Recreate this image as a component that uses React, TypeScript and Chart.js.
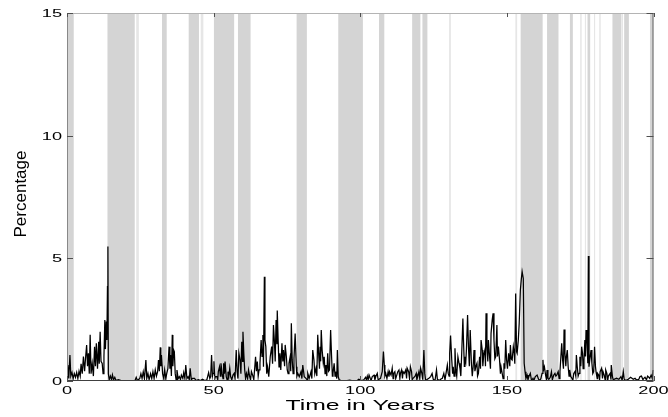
import React, { useEffect, useRef } from "react";
import { Chart, registerables } from "chart.js";

Chart.register(...registerables);

// Time (years) and percentage values
const years: number[] = [
  0.0, 0.3, 0.6, 1.0, 1.3, 1.7, 2.1, 2.5, 2.9, 3.3, 3.7, 4.1, 4.5, 4.8, 5.2, 5.6, 6.0, 6.3, 6.7, 7.0,
  7.3, 7.6, 7.9, 8.2, 8.6, 9.0, 9.4, 9.7, 10.0, 10.4, 10.8, 11.0, 11.3, 11.6, 12.0, 12.3, 12.6, 12.9, 13.1, 13.4,
  13.6, 13.8, 13.95, 14.1, 14.4, 14.8, 15.2, 15.5, 15.9, 16.3, 16.7, 17.5, 18.5, 20.0, 21.5, 22.5, 23.2, 23.6, 24.0, 24.8,
  25.2, 25.6, 26.0, 26.4, 26.9, 27.2, 27.6, 28.0, 28.5, 28.9, 29.3, 29.7, 30.1, 30.5, 30.9, 31.2, 31.5, 31.8, 32.0, 32.2,
  32.6, 33.0, 33.3, 33.7, 34.0, 34.4, 34.8, 35.1, 35.3, 35.6, 35.9, 36.1, 36.4, 36.6, 36.9, 37.2, 37.5, 37.9, 38.3, 38.7,
  39.0, 39.5, 39.8, 40.2, 40.5, 40.9, 41.3, 41.7, 42.0, 42.4, 42.8, 43.5, 44.0, 44.8, 45.5, 46.2, 47.0, 47.7, 48.3, 48.7,
  49.0, 49.3, 49.6, 49.8, 50.1, 50.4, 50.6, 51.1, 51.4, 51.6, 52.0, 52.3, 52.5, 52.9, 53.2, 53.4, 53.7, 53.9, 54.3, 54.6,
  54.9, 55.2, 55.5, 55.8, 56.2, 56.6, 57.0, 57.3, 57.7, 58.0, 58.3, 58.6, 59.0, 59.3, 59.6, 59.9, 60.0, 60.3, 60.6, 60.9,
  61.2, 61.6, 61.9, 62.3, 62.6, 62.9, 63.3, 63.7, 64.3, 64.6, 64.9, 65.2, 65.5, 65.8, 66.2, 66.5, 66.8, 67.0, 67.3, 67.5,
  67.8, 68.1, 68.4, 68.8, 69.3, 69.8, 70.1, 70.4, 70.7, 71.0, 71.3, 71.6, 71.7, 72.0, 72.3, 72.6, 72.9, 73.3, 73.6, 73.8,
  74.2, 74.4, 74.8, 75.1, 75.4, 75.7, 76.1, 76.3, 76.5, 76.8, 77.1, 77.4, 77.8, 78.2, 78.4, 78.7, 79.2, 79.8, 80.1, 80.4,
  80.9, 81.5, 81.9, 82.1, 82.6, 83.2, 83.5, 83.8, 84.2, 84.5, 84.9, 85.2, 85.5, 85.8, 86.1, 86.3, 86.5, 86.7, 87.0, 87.4,
  87.7, 88.0, 88.3, 88.6, 88.9, 89.2, 89.5, 89.9, 90.2, 90.5, 90.7, 91.1, 91.4, 91.6, 92.0, 92.2, 92.5, 92.8, 93.5, 95.0,
  96.4, 97.5, 99.0, 99.5, 100.5, 101.2, 101.8, 102.1, 102.4, 102.7, 103.0, 103.4, 103.7, 104.1, 104.7, 105.0, 105.3, 105.8, 106.1, 106.4,
  106.9, 107.5, 107.9, 108.2, 108.4, 108.7, 109.1, 109.5, 109.8, 110.0, 110.5, 110.9, 111.2, 111.4, 111.8, 112.1, 112.3, 112.8, 113.2, 113.5,
  113.7, 114.1, 114.4, 114.6, 115.0, 115.5, 115.8, 116.0, 116.5, 116.8, 117.1, 117.5, 117.7, 118.0, 118.7, 119.1, 119.3, 119.6, 120.0, 120.3,
  120.6, 121.0, 121.3, 121.7, 122.0, 122.3, 122.9, 123.4, 124.0, 124.5, 124.9, 125.5, 126.0, 126.3, 127.0, 127.4, 128.0, 128.5, 128.9, 129.1,
  129.7, 130.0, 130.3, 130.5, 130.8, 131.2, 131.5, 131.7, 132.0, 132.3, 132.6, 132.9, 133.3, 133.7, 134.0, 134.3, 134.6, 135.0, 135.2, 135.5,
  135.7, 136.0, 136.2, 136.6, 136.9, 137.2, 137.5, 137.9, 138.2, 138.5, 138.8, 139.1, 139.4, 139.8, 140.0, 140.3, 140.7, 141.0, 141.2, 141.6,
  141.8, 142.1, 142.5, 142.7, 142.9, 143.2, 143.5, 143.7, 144.1, 144.4, 144.6, 145.0, 145.3, 145.6, 145.9, 146.2, 146.6, 146.8, 147.1, 147.5,
  147.8, 148.0, 148.4, 148.7, 149.0, 149.3, 149.6, 149.9, 150.2, 150.6, 151.0, 151.2, 151.5, 151.8, 152.2, 152.5, 152.7, 153.0, 153.3, 153.5,
  153.9, 154.2, 154.6, 154.9, 155.2, 155.6, 155.9, 156.2, 156.5, 156.9, 157.2, 157.5, 158.0, 158.4, 158.9, 159.2, 159.7, 160.3, 160.8, 161.2,
  161.6, 162.0, 162.3, 162.5, 162.8, 163.2, 163.5, 163.7, 164.0, 164.3, 164.8, 165.2, 165.5, 166.0, 166.4, 166.7, 167.0, 167.5, 167.8, 168.1,
  168.7, 169.0, 169.3, 169.5, 169.8, 170.1, 170.3, 170.6, 170.9, 171.2, 171.4, 171.8, 172.2, 172.5, 172.8, 173.2, 173.5, 173.7, 174.0, 174.3,
  174.6, 174.9, 175.2, 175.5, 175.8, 176.0, 176.3, 176.6, 176.8, 177.0, 177.3, 177.6, 177.8, 178.0, 178.3, 178.7, 179.0, 179.3, 179.6, 179.9,
  180.2, 180.4, 180.8, 180.9, 181.3, 181.6, 181.8, 182.3, 182.6, 182.8, 183.2, 183.5, 183.7, 184.1, 184.4, 184.6, 185.2, 185.5, 185.6, 186.0,
  186.3, 186.6, 187.4, 188.2, 188.9, 189.3, 189.7, 190.0, 190.5, 191.4, 192.2, 193.1, 193.7, 194.2, 195.0, 195.4, 195.9, 196.4, 196.7, 197.1,
  197.6, 198.0, 198.2, 198.7, 199.2, 199.6, 199.9,
];

const percent: number[] = [
  0.3, 0.65, 0.1, 1.06, 0.2, 0.35, 0.1, 0.3, 0.15, 0.35, 0.1, 0.4, 0.2, 0.7, 0.3, 1.0, 0.4, 0.9, 1.47, 0.6,
  1.13, 0.3, 1.88, 0.3, 0.72, 0.2, 1.4, 0.6, 1.54, 0.5, 1.6, 0.7, 2.01, 0.8, 0.72, 0.3, 0.99, 2.49, 1.3, 2.42,
  1.67, 3.85, 5.48, 0.3, 0.05, 0.2, 0.05, 0.25, 0.05, 0.15, 0.02, 0.05, 0.02, 0.01, 0.02, 0.01, 0.02, 0.15, 0.02, 0.1,
  0.3, 0.1, 0.38, 0.1, 0.85, 0.1, 0.31, 0.05, 0.3, 0.1, 0.38, 0.1, 0.45, 0.2, 0.38, 0.85, 0.4, 1.37, 0.6, 1.06,
  0.3, 0.1, 0.45, 0.1, 0.3, 0.5, 1.4, 0.5, 1.06, 0.2, 1.88, 0.6, 1.26, 1.2, 0.3, 0.05, 0.45, 0.1, 0.18, 0.05,
  0.24, 0.1, 0.34, 0.1, 0.65, 0.1, 0.18, 0.05, 0.52, 0.05, 0.11, 0.11, 0.02, 0.05, 0.02, 0.07, 0.02, 0.05, 0.34, 0.1,
  0.18, 1.06, 0.2, 0.31, 0.8, 0.1, 0.18, 0.18, 0.05, 0.38, 0.58, 0.2, 0.72, 0.31, 0.1, 0.72, 0.3, 0.79, 0.18, 0.05,
  0.38, 0.2, 0.52, 0.18, 0.05, 0.24, 0.31, 0.1, 1.26, 0.38, 0.1, 1.13, 0.86, 0.3, 1.6, 0.8, 2.01, 1.1, 0.45, 0.1,
  0.31, 0.1, 0.45, 0.18, 0.05, 0.38, 0.24, 0.05, 0.99, 0.4, 0.79, 0.2, 0.45, 0.72, 1.67, 1.0, 1.88, 0.58, 4.25, 1.67,
  1.4, 0.3, 0.58, 0.18, 0.99, 1.4, 0.7, 2.28, 1.67, 0.8, 2.49, 1.5, 2.87, 1.67, 0.58, 1.13, 0.45, 1.54, 0.8, 1.26,
  0.6, 1.47, 0.99, 0.45, 0.3, 0.72, 0.99, 0.4, 2.35, 0.86, 0.3, 0.93, 1.94, 0.58, 0.2, 0.31, 0.18, 0.38, 0.1, 0.65,
  0.18, 0.11, 0.05, 0.31, 0.11, 0.38, 0.1, 1.26, 0.86, 0.3, 0.52, 0.2, 1.88, 1.13, 0.5, 1.4, 0.8, 2.08, 1.26, 0.72,
  0.99, 0.3, 0.65, 0.2, 1.13, 0.4, 0.45, 2.08, 1.06, 0.2, 0.31, 0.72, 0.2, 0.38, 0.1, 1.26, 0.18, 0.05, 0.02, 0.01,
  0.04, 0.01, 0.02, 0.07, 0.02, 0.05, 0.15, 0.05, 0.2, 0.05, 0.24, 0.11, 0.02, 0.18, 0.24, 0.05, 0.18, 0.31, 0.05, 0.07,
  0.11, 0.38, 1.2, 0.65, 0.2, 0.31, 0.1, 0.38, 0.18, 0.38, 0.24, 0.52, 0.1, 0.31, 0.38, 0.1, 0.18, 0.38, 0.45, 0.1,
  0.31, 0.45, 0.1, 0.38, 0.31, 0.45, 0.1, 0.52, 0.38, 0.1, 0.58, 0.38, 0.05, 0.11, 0.2, 0.31, 0.05, 0.18, 0.38, 0.1,
  0.52, 0.31, 0.05, 1.26, 0.31, 0.02, 0.07, 0.11, 0.18, 0.31, 0.07, 0.02, 0.45, 0.07, 0.02, 0.07, 0.11, 0.31, 0.05, 0.2,
  0.65, 0.31, 0.2, 1.13, 1.85, 0.86, 0.3, 0.58, 0.2, 1.33, 0.45, 0.2, 0.99, 0.72, 0.52, 0.2, 1.13, 2.55, 1.67, 0.6,
  0.99, 0.8, 1.26, 2.69, 1.4, 0.6, 2.08, 0.72, 0.2, 0.58, 1.26, 0.4, 0.58, 0.72, 0.2, 0.31, 0.99, 0.5, 1.67, 1.26,
  0.6, 1.06, 1.26, 0.6, 2.76, 1.4, 0.8, 1.67, 0.99, 0.5, 1.94, 2.49, 2.76, 1.67, 0.9, 0.99, 2.28, 1.0, 1.4, 0.86,
  0.3, 0.58, 0.31, 0.1, 0.72, 0.5, 1.67, 0.86, 0.5, 1.13, 0.6, 1.47, 0.9, 0.86, 1.4, 1.13, 0.7, 3.57, 1.2, 1.13,
  1.67, 2.35, 3.71, 4.12, 4.46, 4.18, 0.72, 0.38, 0.1, 0.24, 0.05, 0.18, 0.31, 0.02, 0.11, 0.02, 0.18, 0.24, 0.07, 0.02,
  0.1, 0.31, 0.86, 0.45, 0.58, 0.24, 0.05, 0.45, 0.1, 0.07, 0.15, 0.38, 0.05, 0.24, 0.31, 0.2, 0.24, 0.38, 0.1, 0.38,
  1.54, 0.86, 0.5, 2.1, 1.13, 0.6, 0.99, 1.26, 0.58, 0.2, 0.45, 0.18, 0.11, 0.02, 0.31, 0.38, 0.2, 1.06, 0.58, 0.2,
  0.31, 0.99, 0.6, 1.4, 1.13, 0.5, 0.86, 1.67, 1.0, 2.08, 1.67, 0.72, 5.1, 0.58, 0.9, 1.26, 0.72, 0.3, 0.38, 1.4,
  0.6, 0.38, 0.1, 0.31, 0.24, 0.05, 0.38, 0.52, 0.1, 0.38, 0.24, 0.05, 0.45, 0.31, 0.02, 0.2, 0.31, 0.05, 0.65, 0.18,
  0.02, 0.07, 0.11, 0.07, 0.18, 0.02, 0.38, 0.07, 0.02, 0.07, 0.15, 0.07, 0.11, 0.04, 0.07, 0.18, 0.2, 0.05, 0.11, 0.15,
  0.05, 0.2, 0.18, 0.11, 0.24, 0.1, 0.45,
];

// Shaded periods (start, end in years)
const bandStarts: number[] = [0, 13.8, 32.4, 41.5, 50.1, 58.3, 78.3, 92.5, 106.4, 117.7, 121.2, 154.7, 163.7, 171.5, 177.5, 186.0, 190.0, 198.8];
const bandEnds: number[] = [2.3, 23.1, 34.0, 45.0, 57.0, 62.6, 81.8, 100.9, 108.2, 120.5, 122.9, 162.2, 167.6, 172.5, 178.4, 189.0, 191.6, 200];
const lightBandStarts: number[] = [23.6, 45.6, 130.3, 152.9, 175.0, 176.6, 179.7, 181.5, 189.1];
const lightBandEnds: number[] = [24.5, 46.5, 130.9, 153.5, 175.5, 177.0, 180.1, 182.0, 189.6];

const xTickValues: number[] = [0, 50, 100, 150, 200];
const yTickValues: number[] = [0, 5, 10, 15];
const xTitle = "Time in Years";
const yTitle = "Percentage";

const FONT = '"Liberation Sans", Arial, Helvetica, sans-serif';

const matlabPlugin = {
  id: "matlabAxes",
  beforeDatasetsDraw(chart: any) {
    const { ctx, chartArea, scales } = chart;
    const xs = scales.x;
    const { top, bottom, left, right } = chartArea;
    ctx.save();
    ctx.beginPath();
    ctx.rect(left, top, right - left, bottom - top);
    ctx.clip();
    ctx.fillStyle = "#e6e6e6";
    lightBandStarts.forEach((s, i) => {
      const x1 = xs.getPixelForValue(s);
      const x2 = xs.getPixelForValue(lightBandEnds[i]);
      ctx.fillRect(x1, top, x2 - x1, bottom - top);
    });
    ctx.fillStyle = "#d4d4d4";
    bandStarts.forEach((s, i) => {
      const x1 = xs.getPixelForValue(s);
      const x2 = xs.getPixelForValue(bandEnds[i]);
      ctx.fillRect(x1, top, x2 - x1, bottom - top);
    });
    ctx.restore();
  },
  afterDatasetsDraw(chart: any) {
    const { ctx, chartArea, scales } = chart;
    const xs = scales.x;
    const ys = scales.y;
    const { top, bottom, left, right } = chartArea;
    ctx.save();
    ctx.lineWidth = 1;
    // box
    ctx.strokeStyle = "#b4b4b4";
    ctx.beginPath(); ctx.moveTo(left, top + 0.5); ctx.lineTo(right, top + 0.5); ctx.stroke();
    ctx.strokeStyle = "#888888";
    ctx.beginPath(); ctx.moveTo(left + 0.5, top); ctx.lineTo(left + 0.5, bottom); ctx.stroke();
    ctx.strokeStyle = "#606060";
    ctx.beginPath(); ctx.moveTo(right - 0.5, top); ctx.lineTo(right - 0.5, bottom); ctx.stroke();
    ctx.strokeStyle = "#404040";
    ctx.beginPath(); ctx.moveTo(left, bottom - 0.5); ctx.lineTo(right, bottom - 0.5); ctx.stroke();

    // ticks
    ctx.strokeStyle = "#505050";
    xTickValues.forEach((v) => {
      const px = Math.round(xs.getPixelForValue(v)) + 0.5;
      ctx.beginPath(); ctx.moveTo(px, bottom); ctx.lineTo(px, bottom - 5); ctx.stroke();
      ctx.beginPath(); ctx.moveTo(px, top); ctx.lineTo(px, top + 4); ctx.stroke();
    });
    yTickValues.forEach((v) => {
      const py = Math.round(ys.getPixelForValue(v)) + 0.5;
      ctx.beginPath(); ctx.moveTo(left, py); ctx.lineTo(left + 6, py); ctx.stroke();
      ctx.beginPath(); ctx.moveTo(right, py); ctx.lineTo(right - 7, py); ctx.stroke();
    });

    // tick labels (wide)
    ctx.fillStyle = "#000";
    ctx.font = `11px ${FONT}`;
    ctx.textBaseline = "middle";
    xTickValues.forEach((v) => {
      const px = xs.getPixelForValue(v);
      ctx.save();
      ctx.translate(px, bottom + 10);
      ctx.scale(1.65, 1);
      ctx.textAlign = "center";
      ctx.fillText(String(v), 0, 0);
      ctx.restore();
    });
    yTickValues.forEach((v) => {
      const py = ys.getPixelForValue(v);
      ctx.save();
      ctx.translate(left - 5, py + 1);
      ctx.scale(1.65, 1);
      ctx.textAlign = "right";
      ctx.fillText(String(v), 0, 0);
      ctx.restore();
    });

    // x title
    ctx.save();
    ctx.font = `15px ${FONT}`;
    ctx.textBaseline = "alphabetic";
    ctx.textAlign = "center";
    ctx.translate((left + right) / 2, 410);
    ctx.scale(1.65, 1);
    ctx.fillText(xTitle, 0, 0);
    ctx.restore();

    // y title
    ctx.save();
    ctx.font = `17px ${FONT}`;
    ctx.textBaseline = "alphabetic";
    ctx.textAlign = "center";
    ctx.translate(26, (top + bottom) / 2 - 3);
    ctx.rotate(-Math.PI / 2);
    ctx.fillText(yTitle, 0, 0);
    ctx.restore();
    ctx.restore();
  },
};

export default function App() {
  const canvasRef = useRef<HTMLCanvasElement | null>(null);

  useEffect(() => {
    document.body.style.margin = "0";
    const canvas = canvasRef.current;
    if (!canvas) return;
    const points = years.map((x, i) => ({ x, y: percent[i] }));
    const chart = new Chart(canvas, {
      type: "line",
      data: {
        datasets: [
          {
            data: points,
            borderColor: "#000000",
            borderWidth: 1.25,
            pointRadius: 0,
            tension: 0,
            fill: false,
          },
        ],
      },
      options: {
        animation: false,
        responsive: false,
        devicePixelRatio: 1,
        layout: { padding: { left: 67, top: 13, right: 14.5, bottom: 36 } },
        scales: {
          x: { type: "linear", min: 0, max: 200, display: false },
          y: { type: "linear", min: 0, max: 15, display: false },
        },
        plugins: { legend: { display: false }, tooltip: { enabled: false } },
      },
      plugins: [matlabPlugin],
    });
    return () => chart.destroy();
  }, []);

  return (
    <div style={{ position: "fixed", left: 0, top: 0, width: 668, height: 417, background: "#fff" }}>
      <canvas ref={canvasRef} width={668} height={417} />
    </div>
  );
}
